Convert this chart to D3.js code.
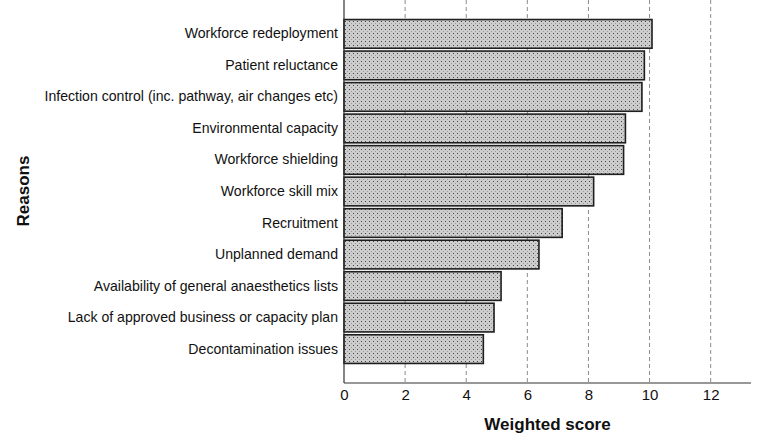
<!DOCTYPE html>
<html><head><meta charset="utf-8">
<script src="https://cdn.jsdelivr.net/npm/d3@7"></script>
<style>body{margin:0;background:#fff}svg{display:block}text{font-family:"Liberation Sans",Arial,sans-serif}</style>
</head><body><svg id="c" width="758" height="445"></svg>
<script>
const categories = ["Workforce redeployment","Patient reluctance","Infection control (inc. pathway, air changes etc)","Environmental capacity","Workforce shielding","Workforce skill mix","Recruitment","Unplanned demand","Availability of general anaesthetics lists","Lack of approved business or capacity plan","Decontamination issues"];
const scores = [10.08, 9.83, 9.75, 9.21, 9.15, 8.17, 7.14, 6.38, 5.14, 4.91, 4.56];
const xTicks = [0, 2, 4, 6, 8, 10, 12];

const svg = d3.select("#c");
const m = {l: 344, r: 751, t: 0, b: 383};
const x = d3.scaleLinear().domain([0, 13.32]).range([m.l, m.r]);
const y = d3.scaleBand().domain(categories).range([m.t, m.b]).paddingInner(0.09).paddingOuter(0.62);

const defs = svg.append("defs");
const pat = defs.append("pattern").attr("id","dots").attr("patternUnits","userSpaceOnUse").attr("width",4).attr("height",4);
pat.append("rect").attr("width",4).attr("height",4).attr("fill","#cdcdcd");
pat.append("rect").attr("x",1).attr("y",1).attr("width",1).attr("height",1).attr("fill","#444");
pat.append("rect").attr("x",3).attr("y",3).attr("width",1).attr("height",1).attr("fill","#999");

// gridlines
svg.append("g").selectAll("line").data(xTicks.filter(d=>d>0)).join("line")
  .attr("x1",d=>x(d)).attr("x2",d=>x(d)).attr("y1",m.t).attr("y2",m.b)
  .attr("stroke","#8c8c8c").attr("stroke-width",1).attr("stroke-dasharray","4,3");

// bars
svg.append("g").selectAll("rect").data(categories).join("rect")
  .attr("x", x(0)).attr("y", d=>y(d))
  .attr("width", (d,i)=>x(scores[i])-x(0)).attr("height", y.bandwidth())
  .attr("fill","url(#dots)").attr("stroke","#1e1e1e").attr("stroke-width",1.6);

// x axis
const xa = svg.append("g").attr("transform",`translate(0,${m.b})`)
  .call(d3.axisBottom(x).tickValues(xTicks).tickSize(0).tickPadding(6).tickFormat(d3.format("d")));
xa.select(".domain").attr("stroke","#333").attr("stroke-width",1.2).attr("d",`M${m.l},0H${m.r}`);
xa.selectAll("text").attr("font-size",15).attr("fill","#111").attr("font-family","Liberation Sans, Arial, sans-serif");

// y axis
const ya = svg.append("g").attr("transform",`translate(${m.l},0)`)
  .call(d3.axisLeft(y).tickSize(0).tickPadding(6));
ya.select(".domain").attr("stroke","#333").attr("stroke-width",1.2).attr("d",`M0,${m.t}V${m.b}`);
ya.selectAll("text").attr("font-size",14.1).attr("fill","#111").attr("font-family","Liberation Sans, Arial, sans-serif");

svg.append("text").attr("x",(m.l+m.r)/2).attr("y",430).attr("text-anchor","middle")
  .attr("font-size",17).attr("font-weight","bold").attr("fill","#111").text("Weighted score");
svg.append("text").attr("transform","translate(29,191) rotate(-90)").attr("text-anchor","middle")
  .attr("font-size",17).attr("font-weight","bold").attr("fill","#111").text("Reasons");
</script></body></html>
